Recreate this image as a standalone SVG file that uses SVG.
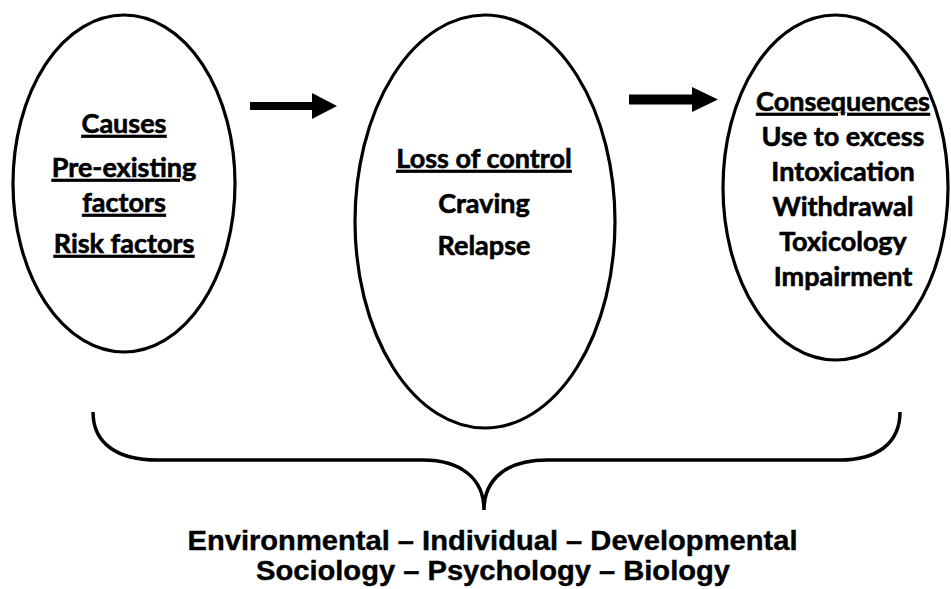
<svg xmlns="http://www.w3.org/2000/svg" width="951" height="589" viewBox="0 0 951 589">
<style>
.node { fill: #ffffff; stroke: #000000; stroke-width: 3.2; }
.t { font-family: Lato, "Open Sans", "Liberation Sans", sans-serif; font-weight: bold; font-size: 27px; fill: #000000; stroke: #000000; stroke-width: 0.6; text-anchor: middle; }
.u { text-decoration: underline; }
.b { font-family: "Liberation Sans", Arial, sans-serif; font-weight: bold; font-size: 27px; fill: #000000; stroke: #000000; stroke-width: 0.4; text-anchor: middle; }
.conn { fill: none; stroke: #000000; stroke-width: 3.5; }
</style>
<rect width="951" height="589" fill="#ffffff"/>
<g id="causes">
  <ellipse class="node" cx="124" cy="183.5" rx="111" ry="168.5"/>
  <text class="t u" x="124" y="133">Causes</text>
  <text class="t u" x="124" y="177">Pre-existing</text>
  <text class="t u" x="124" y="212">factors</text>
  <text class="t u" x="124" y="253">Risk factors</text>
</g>
<g id="loss-of-control">
  <ellipse class="node" cx="485" cy="221.5" rx="130" ry="206.5"/>
  <text class="t u" x="484" y="168">Loss of control</text>
  <text class="t" x="484" y="213">Craving</text>
  <text class="t" x="484" y="255">Relapse</text>
</g>
<g id="consequences">
  <ellipse class="node" cx="835.5" cy="187.5" rx="112.5" ry="172.5"/>
  <text class="t u" x="843" y="111">Consequences</text>
  <text class="t" x="843" y="146">Use to excess</text>
  <text class="t" x="843" y="181">Intoxication</text>
  <text class="t" x="843" y="216">Withdrawal</text>
  <text class="t" x="843" y="251">Toxicology</text>
  <text class="t" x="843" y="286">Impairment</text>
</g>
<g id="connectors">
  <polygon fill="#000000" points="250,102 312,102 312,93 337,106 312,119 312,110 250,110"/>
  <polygon fill="#000000" points="629,94.5 692,94.5 692,87 718,99.5 692,112 692,104.5 629,104.5"/>
  <path class="conn" d="M93,412 C93,444 118,460 157,460 L423,460 C460,460 484,478 484,510 C484,478 508,460 547,460 L840,460 C876,460 900,444 900,412"/>
</g>
<g id="domains">
  <text class="b" x="492.5" y="550" textLength="610" lengthAdjust="spacingAndGlyphs">Environmental – Individual – Developmental</text>
  <text class="b" x="493" y="580" textLength="474" lengthAdjust="spacingAndGlyphs">Sociology – Psychology – Biology</text>
</g>
</svg>
